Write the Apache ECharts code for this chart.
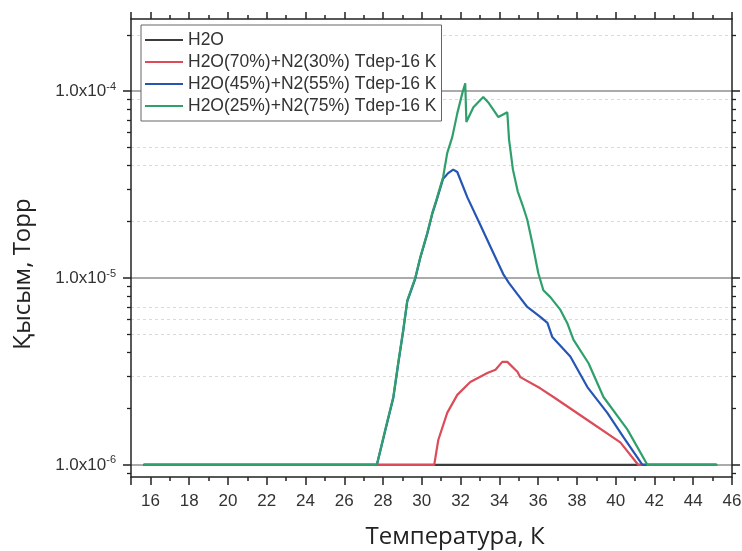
<!DOCTYPE html>
<html>
<head>
<meta charset="utf-8">
<script src="https://cdn.jsdelivr.net/npm/echarts@6/dist/echarts.min.js"></script>
<style>
  html, body { margin: 0; padding: 0; background: #fff; }
  #chart { width: 742px; height: 551px; }
</style>
</head>
<body>
<div id="chart"></div>
<script>
// Desorption pressure vs temperature for water and water/nitrogen ice mixtures
const seriesNames = [
  'H2O',
  'H2O(70%)+N2(30%) Tdep-16 K',
  'H2O(45%)+N2(55%) Tdep-16 K',
  'H2O(25%)+N2(75%) Tdep-16 K'
];

// Temperature, K
const h2oT = [15.65, 20, 25, 30, 35, 40, 45.2];
// Pressure, Torr
const h2oP = [1.0e-6, 1.0e-6, 1.0e-6, 1.0e-6, 1.0e-6, 1.0e-6, 1.0e-6];

const mix70T = [15.65, 27.7, 30.64, 30.85, 31.31, 31.83, 32.5, 33.38, 33.8, 34.15, 34.41, 34.93, 35.08, 36.11, 36.79, 38.54, 40.24, 41.17, 45.2];
const mix70P = [1.0e-6, 1.0e-6, 1.0e-6, 1.36e-6, 1.9e-6, 2.37e-6, 2.78e-6, 3.1e-6, 3.23e-6, 3.56e-6, 3.56e-6, 3.15e-6, 2.95e-6, 2.57e-6, 2.31e-6, 1.74e-6, 1.32e-6, 1.0e-6, 1.0e-6];

const mix45T = [15.65, 27.68, 28.11, 28.53, 28.78, 29.04, 29.25, 29.66, 29.92, 30.28, 30.54, 30.75, 31.1, 31.36, 31.62, 31.83, 32.35, 33.02, 33.69, 34.2, 34.5, 34.93, 35.44, 36.11, 36.48, 36.73, 37.66, 38.54, 39.57, 40.4, 41.38, 45.2];
const mix45P = [1.0e-6, 1.0e-6, 1.52e-6, 2.28e-6, 3.45e-6, 5.2e-6, 7.5e-6, 9.9e-6, 1.28e-5, 1.72e-5, 2.2e-5, 2.58e-5, 3.4e-5, 3.64e-5, 3.8e-5, 3.69e-5, 2.7e-5, 1.92e-5, 1.36e-5, 1.05e-5, 9.4e-6, 8.2e-6, 7.0e-6, 6.2e-6, 5.75e-6, 4.83e-6, 3.8e-6, 2.61e-6, 1.9e-6, 1.41e-6, 1.0e-6, 1.0e-6];

const mix25T = [15.65, 27.68, 28.11, 28.53, 28.78, 29.04, 29.25, 29.66, 29.92, 30.28, 30.54, 30.75, 31.1, 31.31, 31.57, 31.83, 32.09, 32.24, 32.3, 32.66, 33.17, 33.43, 33.95, 34.41, 34.5, 34.7, 34.95, 35.2, 35.44, 35.7, 36.01, 36.27, 36.63, 37.15, 37.5, 37.82, 38.6, 39.37, 40.6, 41.64, 45.25];
const mix25P = [1.0e-6, 1.0e-6, 1.54e-6, 2.31e-6, 3.5e-6, 5.27e-6, 7.6e-6, 1.0e-5, 1.29e-5, 1.74e-5, 2.23e-5, 2.61e-5, 3.47e-5, 4.66e-5, 5.67e-5, 7.6e-5, 9.75e-5, 1.1e-4, 6.83e-5, 8.2e-5, 9.3e-5, 8.7e-5, 7.26e-5, 7.7e-5, 5.5e-5, 3.8e-5, 2.9e-5, 2.45e-5, 2.05e-5, 1.54e-5, 1.06e-5, 8.6e-6, 7.9e-6, 6.75e-6, 5.75e-6, 4.68e-6, 3.5e-6, 2.31e-6, 1.55e-6, 1.0e-6, 1.0e-6];

// Pressure axis tick values, Torr
const majorTickValues = [1e-6, 1e-5, 1e-4];
const minorTickValues = [
  9e-7,
  2e-6, 3e-6, 4e-6, 5e-6, 6e-6, 7e-6, 8e-6, 9e-6,
  2e-5, 3e-5, 4e-5, 5e-5, 6e-5, 7e-5, 8e-5, 9e-5,
  2e-4
];
// Faint dashed reference levels, Torr
const minorGridLevels = [2e-4, 9e-5, 5e-5, 4e-5, 2e-5, 7e-6, 6e-6, 5e-6, 3e-6];

const seriesColors = ['#3c3c3c', '#dc4b58', '#2556b5', '#2f9f6c'];

function pairs(xs, ys) {
  return xs.map((x, i) => [x, ys[i]]);
}

const chart = echarts.init(document.getElementById('chart'), null, { renderer: 'canvas' });

const axisColor = '#222';
const labelFont = 'Liberation Sans, Arial, sans-serif';
const titleFont = 'Open Sans, Noto Sans, sans-serif';
const pMin = 8.62e-7;
const pMax = 2.43e-4;

function yLabel(value) {
  const e = Math.log10(value);
  const r = Math.round(e);
  if (Math.abs(e - r) > 1e-6) return '';
  return '{b|1.0x10}{s|' + r + '}';
}

const xCommon = {
  type: 'value',
  min: 15,
  max: 46,
  splitNumber: 15,
  axisLine: { show: true, onZero: false, lineStyle: { color: axisColor, width: 1.5 } },
  axisTick: { show: true, length: 8, lineStyle: { color: axisColor, width: 1.5 } },
  minorTick: { show: true, splitNumber: 2, length: 4, lineStyle: { color: axisColor, width: 1.5 } },
  splitLine: { show: false }
};

const yCommon = {
  type: 'log',
  logBase: 10,
  min: pMin,
  max: pMax,
  axisLine: { show: true, onZero: false, lineStyle: { color: axisColor, width: 1.5 } },
  axisTick: { show: true, length: 8, customValues: majorTickValues, lineStyle: { color: axisColor, width: 1.5 } },
  minorTick: { show: false },
  splitLine: { show: false },
  axisLabel: { show: false }
};

const yMinor = {
  type: 'log',
  logBase: 10,
  min: pMin,
  max: pMax,
  axisLine: { show: false },
  axisTick: { show: true, length: 4, customValues: minorTickValues, lineStyle: { color: axisColor, width: 1.3 } },
  minorTick: { show: false },
  splitLine: { show: false },
  axisLabel: { show: false }
};

const option = {
  backgroundColor: '#fff',
  animation: false,
  color: seriesColors,
  grid: { left: 131, right: 10, top: 19, bottom: 74, containLabel: false, outerBoundsMode: 'none' },
  legend: {
    orient: 'vertical',
    left: 141,
    top: 25,
    data: seriesNames,
    icon: 'rect',
    itemWidth: 38,
    itemHeight: 2,
    itemGap: 4,
    padding: [6, 5, 6, 4],
    backgroundColor: '#fff',
    borderColor: '#666',
    borderWidth: 1,
    borderRadius: 0,
    textStyle: { fontFamily: labelFont, fontSize: 17.5, lineHeight: 17, color: '#333' }
  },
  xAxis: [
    Object.assign({}, xCommon, {
      position: 'bottom',
      name: 'Температура, К',
      nameLocation: 'middle',
      nameGap: 48,
      nameTextStyle: { fontFamily: titleFont, fontSize: 24, color: '#222', padding: [0, 0, 0, 47] },
      axisLabel: {
        show: true,
        margin: 16,
        fontFamily: labelFont,
        fontSize: 17,
        color: '#333',
        formatter: v => (v % 2 === 0 ? String(v) : '')
      }
    }),
    Object.assign({}, xCommon, {
      position: 'top',
      axisLabel: { show: false },
      axisTick: { show: true, length: 7, lineStyle: { color: axisColor, width: 1.5 } }
    })
  ],
  yAxis: [
    Object.assign({}, yCommon, {
      position: 'left',
      name: 'Қысым, Торр',
      nameLocation: 'middle',
      nameGap: 96,
      nameRotate: 90,
      nameTextStyle: { fontFamily: titleFont, fontSize: 24, color: '#222', padding: [0, 52, 0, 0] },
      splitLine: { show: true, lineStyle: { color: '#8f8f8f', width: 1.5 } },
      axisLabel: {
        show: true,
        margin: 15,
        customValues: majorTickValues,
        formatter: yLabel,
        rich: {
          b: { fontFamily: labelFont, fontSize: 17, color: '#333', lineHeight: 20 },
          s: { fontFamily: labelFont, fontSize: 11, color: '#333', lineHeight: 11, verticalAlign: 'top' }
        }
      }
    }),
    Object.assign({}, yCommon, { position: 'right' }),
    Object.assign({}, yMinor, { position: 'left' }),
    Object.assign({}, yMinor, { position: 'right' }),
    // faint dashed levels drawn as split lines of a tick-less helper axis
    {
      type: 'log',
      logBase: 10,
      min: pMin,
      max: pMax,
      position: 'left',
      axisLine: { show: false },
      axisTick: { show: false, customValues: minorGridLevels },
      axisLabel: { show: false },
      minorTick: { show: false },
      splitLine: { show: true, lineStyle: { type: [3, 3], color: '#dadada', width: 1 } }
    }
  ],
  series: [
    {
      name: seriesNames[0],
      type: 'line',
      data: pairs(h2oT, h2oP),
      symbol: 'none',
      lineStyle: { width: 2.2, color: seriesColors[0] },
      itemStyle: { color: seriesColors[0] },
      z: 2
    },
    {
      name: seriesNames[1],
      type: 'line',
      data: pairs(mix70T, mix70P),
      symbol: 'none',
      lineStyle: { width: 2.2, color: seriesColors[1] },
      itemStyle: { color: seriesColors[1] },
      z: 3
    },
    {
      name: seriesNames[2],
      type: 'line',
      data: pairs(mix45T, mix45P),
      symbol: 'none',
      lineStyle: { width: 2.2, color: seriesColors[2] },
      itemStyle: { color: seriesColors[2] },
      z: 4
    },
    {
      name: seriesNames[3],
      type: 'line',
      data: pairs(mix25T, mix25P),
      symbol: 'none',
      lineStyle: { width: 2.2, color: seriesColors[3] },
      itemStyle: { color: seriesColors[3] },
      z: 5
    }
  ]
};

chart.setOption(option);
</script>
</body>
</html>
